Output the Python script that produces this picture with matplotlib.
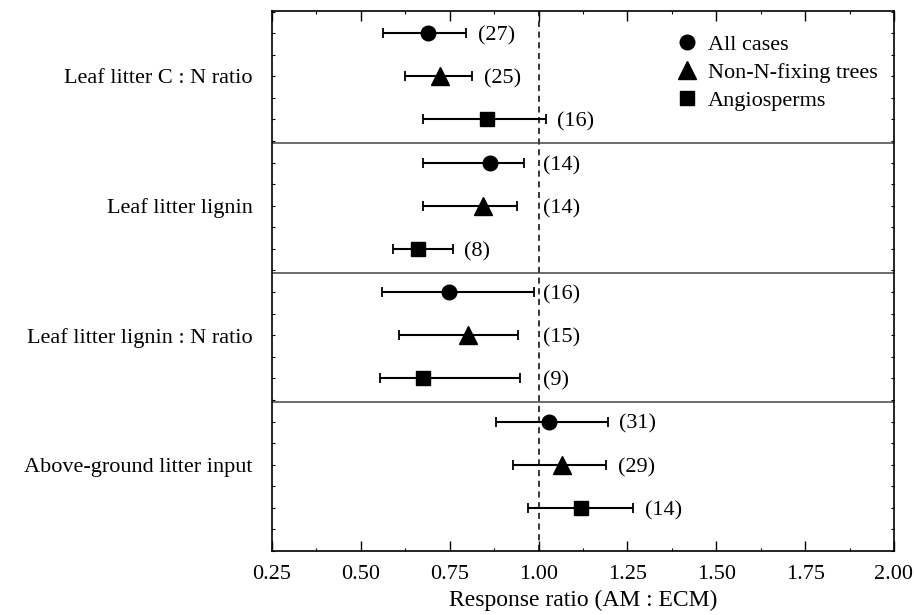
import matplotlib.pyplot as plt
from matplotlib.lines import Line2D
from matplotlib.ticker import MultipleLocator

plt.rcParams['font.family'] = ['Liberation Serif', 'DejaVu Serif']
plt.rcParams['font.size'] = 16

# variables (top to bottom)
variables = ['Leaf litter C : N ratio', 'Leaf litter lignin',
             'Leaf litter lignin : N ratio', 'Above-ground litter input']
groups = ['All cases', 'Non-N-fixing trees', 'Angiosperms']
markers = ['o', '^', 's']
msizes = [10.5, 12.5, 9.5]

# response ratios, one list per group, in the order of variables
mean = {
    'All cases':          [0.688, 0.862, 0.747, 1.029],
    'Non-N-fixing trees': [0.723, 0.845, 0.802, 1.065],
    'Angiosperms':        [0.855, 0.660, 0.675, 1.119],
}
lower = {
    'All cases':          [0.563, 0.675, 0.560, 0.880],
    'Non-N-fixing trees': [0.624, 0.675, 0.608, 0.929],
    'Angiosperms':        [0.674, 0.590, 0.554, 0.969],
}
upper = {
    'All cases':          [0.797, 0.959, 0.986, 1.194],
    'Non-N-fixing trees': [0.812, 0.939, 0.941, 1.191],
    'Angiosperms':        [1.020, 0.758, 0.948, 1.265],
}
n_cases = {
    'All cases':          [27, 14, 16, 31],
    'Non-N-fixing trees': [25, 14, 15, 29],
    'Angiosperms':        [16, 8, 9, 14],
}

fig = plt.figure(figsize=(9.14, 6.15), dpi=100)
ax = fig.add_axes([0.2976, 0.1041, 0.6805, 0.8785])

for gi, g in enumerate(groups):
    for vi in range(len(variables)):
        y = vi * 3 + gi + 1
        m = mean[g][vi]
        lo, hi = lower[g][vi], upper[g][vi]
        ax.errorbar(m, y, xerr=[[m - lo], [hi - m]], fmt=markers[gi],
                    color='black', ms=msizes[gi], elinewidth=1.5,
                    capsize=3.6, capthick=1.3, zorder=3)
        # sample size label, kept clear of the dashed line
        if 0.9 < hi < 1.0:
            ax.annotate('(%d)' % n_cases[g][vi], xy=(1.0, y), xytext=(3.5, -2),
                        textcoords='offset points', va='center', ha='left',
                        fontsize=16)
        else:
            ax.annotate('(%d)' % n_cases[g][vi], xy=(hi, y), xytext=(8.5, -2),
                        textcoords='offset points', va='center', ha='left',
                        fontsize=16)

ax.axvline(1.0, color='black', ls=(0, (4, 3)), lw=1.1, zorder=1)
for s in [3.55, 6.55, 9.55]:
    ax.axhline(s, color='#444444', lw=1.1, zorder=1)

ax.set_xlim(0.25, 2.0)
ax.set_ylim(13.0, 0.48)
ax.xaxis.set_major_locator(MultipleLocator(0.25))
ax.xaxis.set_minor_locator(MultipleLocator(0.125))
ax.xaxis.set_major_formatter(plt.FuncFormatter(lambda v, p: '%.2f' % v))
ax.tick_params(axis='x', which='major', direction='in', length=7, width=1, pad=10)
ax.tick_params(axis='x', which='minor', direction='in', length=2.5, width=0.8)
ax.tick_params(axis='x', which='both', top=True, labeltop=False)

ax.set_yticks([vi * 3 + 2 for vi in range(len(variables))])
ax.set_yticklabels(variables)
ax.yaxis.set_minor_locator(MultipleLocator(0.5))
ax.tick_params(axis='y', which='both', direction='in', length=2.5, width=0.8,
               right=True, pad=14)

for sp in ax.spines.values():
    sp.set_linewidth(1.2)

ax.set_xlabel('Response ratio (AM : ECM)', labelpad=4, fontsize=17)

handles = [Line2D([], [], marker=markers[i], ls='none', color='black',
                  ms=msizes[i]) for i in range(3)]
ax.legend(handles, groups, loc='upper left', bbox_to_anchor=(0.617, 0.993),
          frameon=False, handlelength=1.0, handletextpad=0.45,
          labelspacing=0.33, fontsize=16)

fig.savefig('out.png', dpi=100)
